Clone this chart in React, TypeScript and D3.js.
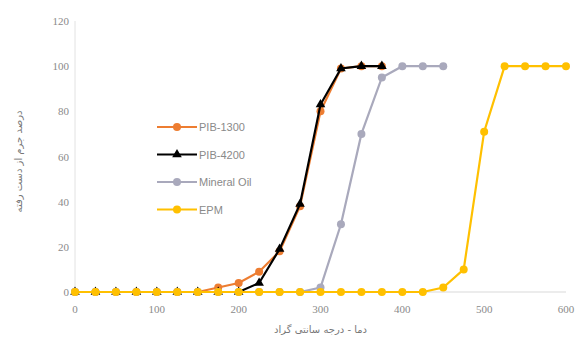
import { useRef, useEffect } from "react";
import * as d3 from "d3";

const W = 580;
const H = 342;
const margin = { top: 21, right: 14, bottom: 50, left: 75 };

const temps = [0, 25, 50, 75, 100, 125, 150, 175, 200, 225, 250, 275, 300, 325, 350, 375, 400, 425, 450, 475, 500, 525, 550, 575, 600];
const pib1300 = [0, 0, 0, 0, 0, 0, 0, 2, 4, 9, 18, 38, 80, 99, 100, 100];
const pib4200 = [0, 0, 0, 0, 0, 0, 0, 0, 0, 4, 19, 39, 83, 99, 100, 100];
const mineralOil = [0, 0, 0, 0, 0, 0, 0, 0, 0, 0, 0, 0, 2, 30, 70, 95, 100, 100, 100];
const epm = [0, 0, 0, 0, 0, 0, 0, 0, 0, 0, 0, 0, 0, 0, 0, 0, 0, 0, 2, 10, 71, 100, 100, 100, 100];

const seriesNames = ["PIB-1300", "PIB-4200", "Mineral Oil", "EPM"];
const seriesColors = ["#ED7D31", "#000000", "#A9A9BC", "#FFC000"];
const seriesMarkers = ["circle", "triangle", "circle", "circle"];
const seriesValues = [pib1300, pib4200, mineralOil, epm];

const xTicks = [0, 100, 200, 300, 400, 500, 600];
const yTicks = [0, 20, 40, 60, 80, 100, 120];
const xLabel = "دما - درجه سانتی گراد";
const yLabel = "درصد جرم از دست رفته";

export default function App() {
  const svgRef = useRef<SVGSVGElement>(null);

  useEffect(() => {
    const svg = d3.select(svgRef.current);
    svg.selectAll("*").remove();

    const x = d3.scaleLinear().domain([0, 600]).range([margin.left, W - margin.right]);
    const y = d3.scaleLinear().domain([0, 120]).range([H - margin.bottom, margin.top]);

    // axis lines
    svg.append("line")
      .attr("x1", x(0)).attr("x2", x(0))
      .attr("y1", y(120)).attr("y2", y(0))
      .attr("stroke", "#e2e2e2");
    svg.append("line")
      .attr("x1", x(0)).attr("x2", x(600))
      .attr("y1", y(0)).attr("y2", y(0))
      .attr("stroke", "#d9d9d9");

    // tick labels
    svg.append("g").selectAll("text").data(yTicks).join("text")
      .attr("x", x(0) - 6).attr("y", d => y(d) + 4)
      .attr("text-anchor", "end")
      .attr("font-family", "Liberation Serif, serif")
      .attr("font-size", 11).attr("fill", "#8a8a8a")
      .text(d => d);
    svg.append("g").selectAll("text").data(xTicks).join("text")
      .attr("x", d => x(d)).attr("y", y(0) + 21)
      .attr("text-anchor", "middle")
      .attr("font-family", "Liberation Serif, serif")
      .attr("font-size", 11).attr("fill", "#8a8a8a")
      .text(d => d);

    // axis titles
    svg.append("text")
      .attr("x", (x(0) + x(600)) / 2).attr("y", H - 9)
      .attr("text-anchor", "middle")
      .attr("font-family", "DejaVu Sans, sans-serif")
      .attr("font-size", 10).attr("fill", "#777")
      .text(xLabel);
    svg.append("text")
      .attr("transform", `translate(22, ${(y(0) + y(120)) / 2 + 5}) rotate(-90)`)
      .attr("text-anchor", "middle")
      .attr("font-family", "DejaVu Sans, sans-serif")
      .attr("font-size", 10).attr("fill", "#777")
      .text(yLabel);

    const line = d3.line<number>()
      .x((_, i) => x(temps[i]))
      .y(d => y(d));

    const tri = d3.symbol().type(d3.symbolTriangle).size(40);

    seriesValues.forEach((vals, s) => {
      const g = svg.append("g");
      g.append("path")
        .datum(vals)
        .attr("d", line)
        .attr("fill", "none")
        .attr("stroke", seriesColors[s])
        .attr("stroke-width", 2.2);
      if (seriesMarkers[s] === "triangle") {
        g.selectAll("path.m").data(vals).join("path")
          .attr("class", "m")
          .attr("transform", (d, i) => `translate(${x(temps[i])},${y(d)})`)
          .attr("d", tri)
          .attr("fill", seriesColors[s]);
      } else {
        g.selectAll("circle").data(vals).join("circle")
          .attr("cx", (_, i) => x(temps[i]))
          .attr("cy", d => y(d))
          .attr("r", 4)
          .attr("fill", seriesColors[s]);
      }
    });

    // legend
    const legend = svg.append("g").attr("transform", "translate(157, 127)");
    seriesNames.forEach((name, i) => {
      const ly = i * 27.5;
      legend.append("line")
        .attr("x1", 0).attr("x2", 40)
        .attr("y1", ly).attr("y2", ly)
        .attr("stroke", seriesColors[i]).attr("stroke-width", 2.2);
      if (seriesMarkers[i] === "triangle") {
        legend.append("path")
          .attr("transform", `translate(20,${ly})`)
          .attr("d", tri)
          .attr("fill", seriesColors[i]);
      } else {
        legend.append("circle")
          .attr("cx", 20).attr("cy", ly).attr("r", 4)
          .attr("fill", seriesColors[i]);
      }
      legend.append("text")
        .attr("x", 42).attr("y", ly + 4)
        .attr("font-family", "Liberation Sans, sans-serif")
        .attr("font-size", 11).attr("fill", "#8a8a8a")
        .text(name);
    });
  }, []);

  return (
    <svg ref={svgRef} width={W} height={H}
      style={{ position: "absolute", left: 0, top: 0, background: "#fff" }} />
  );
}
